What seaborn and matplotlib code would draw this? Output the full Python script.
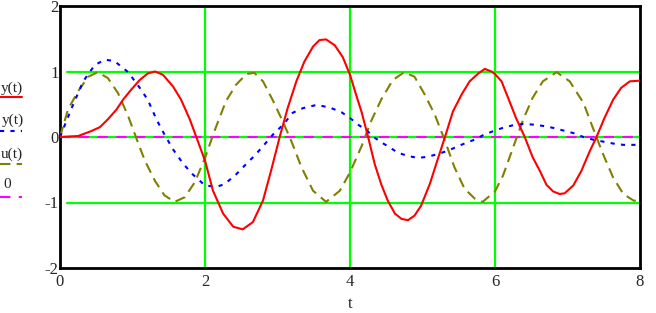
import matplotlib
matplotlib.use("Agg")
import matplotlib.pyplot as plt
import seaborn as sns

# ---- data ----
t_y = [0, 0.25, 0.43, 0.55, 0.66, 0.78, 0.87, 0.98, 1.1, 1.21, 1.31, 1.42, 1.56, 1.67, 1.79, 1.88, 2.0,
       2.11, 2.25, 2.39, 2.52, 2.66, 2.8, 2.91, 3.03, 3.14, 3.26, 3.37, 3.49, 3.58, 3.67, 3.79, 3.9, 4.0,
       4.08, 4.16, 4.25, 4.34, 4.43, 4.52, 4.62, 4.71, 4.8, 4.89, 4.98, 5.1, 5.21, 5.31, 5.42, 5.54, 5.65,
       5.77, 5.86, 5.95, 6.0, 6.09, 6.18, 6.29, 6.41, 6.52, 6.62, 6.71, 6.8, 6.89, 6.96, 7.08, 7.19, 7.31,
       7.4, 7.51, 7.63, 7.74, 7.86, 8.0]
y_vals = [0, 0.015, 0.09, 0.15, 0.27, 0.42, 0.57, 0.72, 0.87, 0.97, 1.0, 0.95, 0.77, 0.57, 0.27, 0.0, -0.36,
          -0.82, -1.17, -1.37, -1.41, -1.30, -0.97, -0.52, 0.0, 0.44, 0.85, 1.15, 1.38, 1.48, 1.49, 1.40, 1.22, 0.95,
          0.66, 0.38, 0.0, -0.41, -0.72, -0.97, -1.17, -1.25, -1.27, -1.20, -1.05, -0.72, -0.34, 0.0, 0.39, 0.65, 0.85,
          0.97, 1.04, 1.0, 0.96, 0.85, 0.60, 0.29, 0.0, -0.31, -0.52, -0.73, -0.83, -0.87, -0.86, -0.74, -0.52, -0.21,
          0.0, 0.29, 0.57, 0.75, 0.85, 0.86]

t_v = [0, 0.16, 0.32, 0.48, 0.62, 0.75, 0.94, 1.1, 1.21, 1.33, 1.44, 1.56, 1.7, 1.83, 2.0,
       2.16, 2.27, 2.43, 2.57, 2.68, 2.8, 2.94, 3.08, 3.21, 3.35, 3.54, 3.72, 3.88, 4.0,
       4.11, 4.23, 4.34, 4.43, 4.55, 4.66, 4.8, 4.94, 5.08, 5.21, 5.35, 5.47, 5.6, 5.72, 5.84, 6.0,
       6.11, 6.25, 6.39, 6.52, 6.66, 6.8, 6.94, 7.08, 7.22, 7.35, 7.49, 7.63, 7.77, 7.9, 8.0]
v_vals = [0, 0.44, 0.85, 1.10, 1.18, 1.16, 0.99, 0.75, 0.57, 0.27, 0.04, -0.19, -0.41, -0.57, -0.74,
          -0.76, -0.72, -0.57, -0.41, -0.29, -0.14, 0.04, 0.19, 0.37, 0.44, 0.49, 0.45, 0.38, 0.29,
          0.19, 0.10, -0.01, -0.08, -0.16, -0.24, -0.29, -0.32, -0.30, -0.26, -0.21, -0.15, -0.09, -0.04, 0.03, 0.10,
          0.14, 0.18, 0.20, 0.19, 0.17, 0.14, 0.10, 0.06, 0.0, -0.04, -0.07, -0.10, -0.12, -0.12, -0.12]

t_u = [0, 0.11, 0.25, 0.39, 0.52, 0.66, 0.8, 0.94, 1.05, 1.17, 1.31, 1.44, 1.58, 1.72, 1.86, 2.0,
       2.13, 2.29, 2.43, 2.57, 2.68, 2.8, 2.94, 3.08, 3.19, 3.33, 3.49, 3.67, 3.86, 4.0,
       4.16, 4.29, 4.43, 4.59, 4.75, 4.89, 5.03, 5.17, 5.31, 5.44, 5.58, 5.72, 5.83, 6.0,
       6.11, 6.25, 6.39, 6.52, 6.66, 6.85, 7.03, 7.22, 7.35, 7.49, 7.63, 7.77, 7.91, 8.0]
u_vals = [0, 0.42, 0.70, 0.92, 0.99, 0.90, 0.67, 0.32, -0.01, -0.36, -0.67, -0.89, -0.99, -0.92, -0.69, -0.32,
          0.09, 0.55, 0.80, 0.96, 0.98, 0.85, 0.55, 0.22, -0.06, -0.46, -0.82, -0.99, -0.82, -0.54,
          -0.14, 0.24, 0.57, 0.87, 0.99, 0.92, 0.65, 0.34, -0.06, -0.46, -0.79, -0.94, -0.99, -0.83,
          -0.59, -0.16, 0.27, 0.60, 0.85, 0.99, 0.85, 0.52, 0.14, -0.26, -0.62, -0.87, -0.97, -0.98]

t_zero = [0, 8]
zero_vals = [0, 0]

labels = ["y(t)", "y(t)", "u(t)", "0"]
x_ticks = [0, 2, 4, 6, 8]
y_ticks = [-2, -1, 0, 1, 2]

# ---- figure ----
sns.set_theme(style="white")
plt.rcParams['font.family'] = ['Liberation Serif', 'DejaVu Serif']

fig = plt.figure(figsize=(6.56, 3.13), dpi=100)
ax = fig.add_axes([60/656, 45/313, 580/656, 262/313])

for xv in [2, 4, 6]:
    ax.axvline(xv, color="#00ff00", lw=1.6, zorder=1)
for yv in [-1, 0, 1]:
    ax.axhline(yv, xmin=0.012, color="#00ff00", lw=1.6, zorder=1)

sns.lineplot(x=t_zero, y=zero_vals, ax=ax, color="#ff00ff", lw=1.5,
             linestyle=(0, (5, 4)), sort=False, zorder=2)
sns.lineplot(x=t_u, y=u_vals, ax=ax, color="#808000", lw=1.5,
             linestyle=(0, (5, 3)), sort=False, zorder=3)
sns.lineplot(x=t_v, y=v_vals, ax=ax, color="#0000ff", lw=1.5,
             linestyle=(0, (2, 3)), sort=False, zorder=4)
sns.lineplot(x=t_y, y=y_vals, ax=ax, color="#ff0000", lw=1.5,
             linestyle="-", sort=False, zorder=5)

ax.set_xlim(0, 8)
ax.set_ylim(-2, 2)
ax.set_xticks(x_ticks)
ax.set_yticks(y_ticks)
ax.set_xticklabels([str(v) for v in x_ticks], fontsize=12)
ax.set_yticklabels([str(v) for v in y_ticks], fontsize=12)
ax.tick_params(axis="x", length=0, pad=4)
ax.tick_params(axis="y", length=0, pad=1)
ax.set_xlabel("t", fontsize=12, labelpad=5)
ax.set_ylabel("")
for s in ax.spines.values():
    s.set_visible(True)
    s.set_color("black")
    s.set_linewidth(2)

# left-side legend (Mathcad style)
leg_y_text = [88, 120, 154, 184]
leg_y_line = [97, 131, 164, 197]
leg_colors = ["#ff0000", "#0000ff", "#808000", "#ff00ff"]
leg_styles = ["-", (0, (2, 3)), (0, (5, 3)), (0, (5, 4))]
leg_x = [1, 2, 1, 3]
for lab, yt, yl, c, ls, xo in zip(labels, leg_y_text, leg_y_line, leg_colors, leg_styles, leg_x):
    fig.text(xo/656, 1 - yt/313, lab, fontsize=11, ha="left", va="center")
    fig.add_artist(plt.Line2D([0, 22/656], [1 - yl/313, 1 - yl/313], color=c, lw=1.5,
                              linestyle=ls, transform=fig.transFigure))

fig.savefig("out.png", dpi=100)
